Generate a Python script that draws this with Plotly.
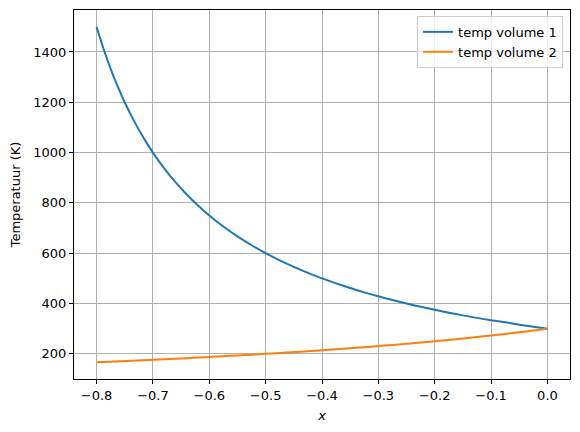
import plotly.graph_objects as go

x_vals = [-0.8, -0.79, -0.78, -0.77, -0.76, -0.75, -0.74, -0.73, -0.72, -0.71, -0.7,
          -0.68, -0.66, -0.64, -0.62, -0.6, -0.575, -0.55, -0.525, -0.5,
          -0.475, -0.45, -0.425, -0.4, -0.375, -0.35, -0.325, -0.3, -0.275, -0.25,
          -0.225, -0.2, -0.175, -0.15, -0.125, -0.1, -0.075, -0.05, -0.025, 0.0]
temp_volume_1 = [1500, 1428.6, 1363.6, 1304.3, 1250, 1200, 1153.8, 1111.1, 1071.4, 1034.5, 1000,
                 937.5, 882.4, 833.3, 789.5, 750, 705.9, 666.7, 631.6, 600,
                 571.4, 545.5, 521.7, 500, 480, 461.5, 444.4, 428.6, 413.8, 400,
                 387.1, 375, 363.6, 352.9, 342.9, 333.3, 325.6, 315.8, 307.7, 300]
temp_volume_2 = [166.7, 167.6, 168.5, 169.5, 170.5, 171.4, 172.4, 173.4, 174.4, 175.4, 176.5,
                 178.6, 180.7, 182.9, 185.2, 187.5, 190.5, 193.5, 196.7, 200,
                 203.4, 206.9, 210.5, 214.3, 218.2, 222.2, 226.4, 230.8, 235.3, 240,
                 244.9, 250, 255.3, 260.9, 266.7, 272.7, 279.1, 285.7, 292.7, 300]

x_ticks = [-0.8, -0.7, -0.6, -0.5, -0.4, -0.3, -0.2, -0.1, 0.0]
x_tick_labels = ["\u22120.8", "\u22120.7", "\u22120.6", "\u22120.5", "\u22120.4",
                 "\u22120.3", "\u22120.2", "\u22120.1", "0.0"]
y_ticks = [200, 400, 600, 800, 1000, 1200, 1400]

fig = go.Figure()
fig.add_trace(go.Scatter(x=x_vals, y=temp_volume_1, mode="lines", name="temp volume 1",
                         line=dict(color="#1f77b4", width=2, shape="spline", smoothing=0.6)))
fig.add_trace(go.Scatter(x=x_vals, y=temp_volume_2, mode="lines", name="temp volume 2",
                         line=dict(color="#ff7f0e", width=2, shape="spline", smoothing=0.6)))

axis_common = dict(showline=True, linecolor="black", linewidth=1, mirror=True,
                   ticks="outside", ticklen=4, tickcolor="black", tickwidth=1,
                   showgrid=True, gridcolor="#b0b0b0", gridwidth=1, zeroline=False,
                   automargin=False,
                   tickfont=dict(family="DejaVu Sans", size=13, color="black"))

fig.update_xaxes(range=[-0.84, 0.04], tickvals=x_ticks, ticktext=x_tick_labels,
                 title=dict(text="<i>x</i>", font=dict(family="DejaVu Sans", size=13, color="black"),
                            standoff=9),
                 **axis_common)
fig.update_yaxes(range=[100, 1566.7], tickvals=y_ticks,
                 title=dict(text="Temperatuur (K)", font=dict(family="DejaVu Sans", size=13, color="black"),
                            standoff=10),
                 **axis_common)

# the page body adds an 8px offset, so margins are shifted to put the plot area
# where the reference has it
fig.update_layout(
    width=580, height=432,
    margin=dict(l=66, r=17.5, t=1.5, b=60.6),
    paper_bgcolor="white", plot_bgcolor="white",
    font=dict(family="DejaVu Sans", size=13, color="black"),
    showlegend=True,
    legend=dict(x=0.986, y=0.984, xanchor="right", yanchor="top",
                bgcolor="rgba(255,255,255,0.8)", bordercolor="#cccccc", borderwidth=1,
                font=dict(family="DejaVu Sans", size=13, color="black"),
                tracegroupgap=0, itemwidth=30),
)

fig.write_html("out.html")
